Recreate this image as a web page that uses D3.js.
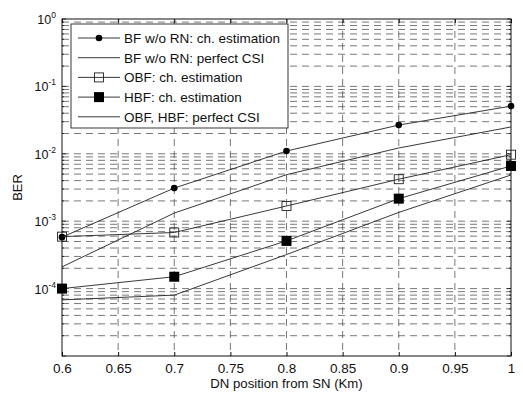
<!DOCTYPE html>
<html><head><meta charset="utf-8">
<script src="https://cdn.jsdelivr.net/npm/d3@7"></script>
<style>body{margin:0;background:#fff}text{font-family:"Liberation Sans",Arial,Helvetica,sans-serif;fill:#111}</style>
</head><body><svg id="c" width="523" height="394"></svg>
<script>
const xValues = [0.6, 0.7, 0.8, 0.9, 1.0];
const bfEst     = [5.8e-4, 3.1e-3, 1.1e-2, 2.67e-2, 5.1e-2];
const bfPerfect = [2.1e-4, 1.32e-3, 4.9e-3, 1.22e-2, 2.5e-2];
const obfEst    = [5.9e-4, 6.8e-4, 1.68e-3, 4.2e-3, 9.7e-3];
const hbfEst    = [1.0e-4, 1.5e-4, 5.1e-4, 2.16e-3, 6.6e-3];
const ohPerfect = [6.8e-5, 8.0e-5, 3.2e-4, 1.35e-3, 4.85e-3];
const xTicks = [0.6, 0.65, 0.7, 0.75, 0.8, 0.85, 0.9, 0.95, 1];
const xTickLabels = ["0.6","0.65","0.7","0.75","0.8","0.85","0.9","0.95","1"];
const yExps = [0, -1, -2, -3, -4];
const legendLabels = ["BF w/o RN: ch. estimation","BF w/o RN: perfect CSI","OBF: ch. estimation","HBF: ch. estimation","OBF, HBF: perfect CSI"];
const xLabel = "DN position from SN (Km)";
const yLabel = "BER";

const svg = d3.select("#c");
const L = 62, R = 511, T = 19, B = 356;
const x = d3.scaleLinear().domain([0.6, 1]).range([L, R]);
const y = d3.scaleLog().domain([1e-5, 1]).range([B, T]);

// grid
const g = svg.append("g");
const gridStyle = s => s.attr("stroke", "#555").attr("stroke-width", 0.8).attr("stroke-dasharray", "7,5");
xTicks.slice(1, -1).forEach(v => {
  g.append("line").attr("x1", x(v)).attr("x2", x(v)).attr("y1", T).attr("y2", B).call(gridStyle);
});
const yMinor = [];
for (let e = -5; e < 0; e++) for (let m = 1; m <= 9; m++) yMinor.push(m * Math.pow(10, e));
yMinor.filter(v => v > 1e-5).forEach(v => {
  g.append("line").attr("x1", L).attr("x2", R).attr("y1", y(v)).attr("y2", y(v)).call(gridStyle);
});

// axes (MATLAB style inward ticks)
const xAxB = d3.axisBottom(x).tickValues(xTicks).tickSizeInner(-4).tickSizeOuter(0).tickFormat((d, i) => xTickLabels[i]);
const ax = svg.append("g").attr("transform", `translate(0,${B})`).call(xAxB);
ax.select(".domain").remove();
ax.selectAll("line").attr("stroke", "#111");
ax.selectAll("text").attr("dy", "1.0em").attr("font-size", 13.5).style("font-family", "Liberation Sans, Arial");
const axT = svg.append("g").attr("transform", `translate(0,${T})`).call(d3.axisTop(x).tickValues(xTicks).tickSizeInner(-4).tickSizeOuter(0).tickFormat(""));
axT.select(".domain").remove(); axT.selectAll("line").attr("stroke", "#111");

const yAllTicks = yMinor.concat([1]);
[[L, 1], [R, -1]].forEach(([xp, dir]) => {
  yAllTicks.forEach(v => {
    const major = Math.abs(Math.log10(v) - Math.round(Math.log10(v))) < 1e-9;
    svg.append("line").attr("x1", xp).attr("x2", xp + dir * (major ? 4 : 2))
      .attr("y1", y(v)).attr("y2", y(v)).attr("stroke", "#111").attr("stroke-width", 0.8);
  });
});
svg.append("rect").attr("x", L).attr("y", T).attr("width", R - L).attr("height", B - T)
  .attr("fill", "none").attr("stroke", "#111").attr("stroke-width", 1);

// y tick labels
yExps.forEach(e => {
  const t = svg.append("text").attr("x", 56).attr("y", y(Math.pow(10, e)) + 5).attr("text-anchor", "end").attr("font-size", 12.5);
  t.append("tspan").text("10");
  t.append("tspan").attr("dy", -6).attr("font-size", 8.5).text(String(e));
});

// axis titles
svg.append("text").attr("x", (L + R) / 2).attr("y", 388).attr("text-anchor", "middle").attr("font-size", 13.2).text(xLabel);
svg.append("text").attr("transform", `translate(22,${(T + B) / 2}) rotate(-90)`).attr("text-anchor", "middle").attr("font-size", 13).text(yLabel);

// series
const series = [
  {vals: bfEst, marker: "dot"},
  {vals: bfPerfect, marker: null},
  {vals: obfEst, marker: "open"},
  {vals: hbfEst, marker: "filled"},
  {vals: ohPerfect, marker: null}
];
const line = d3.line().x((d, i) => x(xValues[i])).y(d => y(d));
function drawMarker(sel, type, cx, cy) {
  if (type === "dot") sel.append("circle").attr("cx", cx).attr("cy", cy).attr("r", 3.3).attr("fill", "#000");
  else if (type === "open") sel.append("rect").attr("x", cx - 4.5).attr("y", cy - 4.5).attr("width", 9).attr("height", 9).attr("fill", "none").attr("stroke", "#222").attr("stroke-width", 0.9);
  else if (type === "filled") sel.append("rect").attr("x", cx - 5).attr("y", cy - 5).attr("width", 10).attr("height", 10).attr("fill", "#000");
}
const sg = svg.append("g");
series.forEach(s => {
  sg.append("path").attr("d", line(s.vals)).attr("fill", "none").attr("stroke", "#222").attr("stroke-width", 0.9);
  if (s.marker) s.vals.forEach((v, i) => drawMarker(sg, s.marker, x(xValues[i]), y(v)));
});

// legend
const lg = svg.append("g");
lg.append("rect").attr("x", 71).attr("y", 24).attr("width", 217).attr("height", 104).attr("fill", "#fff").attr("stroke", "#222").attr("stroke-width", 0.9);
legendLabels.forEach((lab, i) => {
  const yy = 38 + i * 19.7;
  lg.append("line").attr("x1", 78).attr("x2", 120).attr("y1", yy).attr("y2", yy).attr("stroke", "#222").attr("stroke-width", 0.9);
  drawMarker(lg, series[i].marker, 99, yy);
  lg.append("text").attr("x", 124).attr("y", yy + 4.8).attr("font-size", 13.5).text(lab);
});
</script></body></html>
